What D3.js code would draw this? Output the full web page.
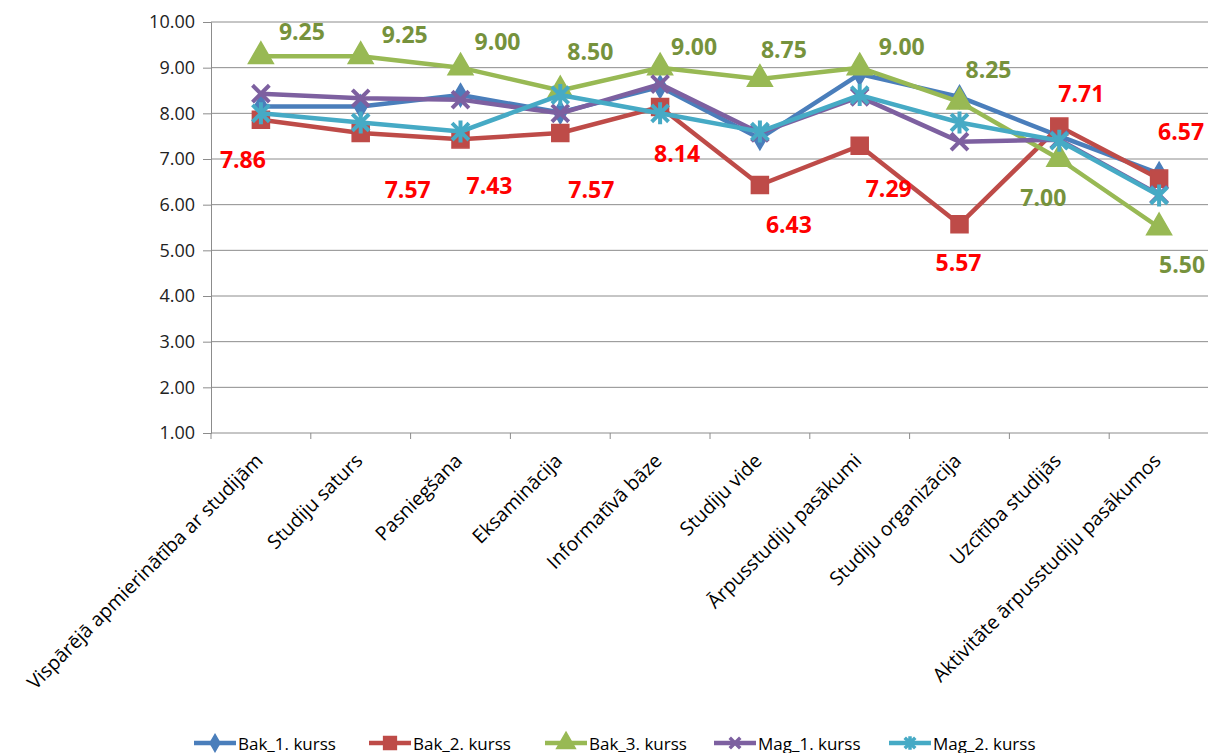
<!DOCTYPE html>
<html>
<head>
<meta charset="utf-8">
<script src="https://cdn.jsdelivr.net/npm/d3@7"></script>
<style>
  body { margin: 0; background: #fff; }
  svg { font-family: "Open Sans", "Noto Sans", sans-serif; }
</style>
</head>
<body>
<div id="chart"></div>
<script>
const categories = ["Vispārējā apmierinātība ar studijām", "Studiju saturs", "Pasniegšana", "Eksaminācija",
  "Informatīvā bāze", "Studiju vide", "Ārpusstudiju pasākumi", "Studiju organizācija", "Uzcītība studijās",
  "Aktivitāte ārpusstudiju pasākumos"];

const bak1 = [8.15, 8.15, 8.40, 8.02, 8.58, 7.45, 8.86, 8.36, 7.50, 6.68];
const bak2 = [7.86, 7.57, 7.43, 7.57, 8.14, 6.43, 7.29, 5.57, 7.71, 6.57];
const bak3 = [9.25, 9.25, 9.00, 8.50, 9.00, 8.75, 9.00, 8.25, 7.00, 5.50];
const mag1 = [8.43, 8.33, 8.30, 8.00, 8.64, 7.57, 8.36, 7.38, 7.42, 6.22];
const mag2 = [8.00, 7.80, 7.60, 8.40, 8.00, 7.60, 8.40, 7.80, 7.40, 6.20];

const seriesNames = ["Bak_1. kurss", "Bak_2. kurss", "Bak_3. kurss", "Mag_1. kurss", "Mag_2. kurss"];
const yTicks = [1, 2, 3, 4, 5, 6, 7, 8, 9, 10];

// label nudges (px) for the two labelled series, placed by hand like in the original
const bak3LabelShift = [[41,-25],[44,-22],[37,-27],[30,-40],[34,-22],[24,-30],[42,-22],[29,-33],[-16,38],[23,36]];
const bak2LabelShift = [[-18,39],[47,56],[29,46],[31,56],[17,46],[29,39],[29,42],[-1,38],[22,-34],[22,-48]];

let width = 1208, height = 753,
    margin = ({ top: 22, right: -1, bottom: 320, left: 211 });

const svg = d3.select("#chart").append("svg")
    .attr("width", width).attr("height", height)
    .attr("viewBox", [0, 0, width, height]);

let x = d3.scaleBand().domain(categories).range([margin.left, width - margin.right]);
let y = d3.scaleLinear().domain([1, 10]).range([height - margin.bottom, margin.top]);

const series = [
  { name: seriesNames[0], values: bak1, color: "#4A7EBB", marker: "diamond" },
  { name: seriesNames[1], values: bak2, color: "#BE4B48", marker: "square" },
  { name: seriesNames[2], values: bak3, color: "#98B954", marker: "triangle" },
  { name: seriesNames[3], values: mag1, color: "#7D60A0", marker: "x" },
  { name: seriesNames[4], values: mag2, color: "#46AAC5", marker: "star" }
];

// gridlines
svg.append("g")
  .selectAll("line")
  .data(yTicks.slice(1))
  .join("line")
  .attr("x1", margin.left).attr("x2", width)
  .attr("y1", d => y(d)).attr("y2", d => y(d))
  .attr("stroke", "#8c8c8c").attr("stroke-width", 1);

// y axis
const yAxis = svg.append("g")
  .attr("transform", `translate(${margin.left},0)`)
  .call(d3.axisLeft(y).tickValues(yTicks).tickFormat(d3.format(".2f")).tickSize(8).tickPadding(8));
yAxis.attr("font-size", null).attr("font-family", null);
yAxis.select(".domain").attr("stroke", "#8c8c8c");
yAxis.selectAll(".tick line").attr("stroke", "#8c8c8c");
yAxis.selectAll("text")
  .style("font-size", "18px")
  .style("font-family", "'Open Sans', sans-serif")
  .attr("fill", "#222");

// x axis baseline with ticks at category boundaries
const xb = svg.append("g");
xb.append("line")
  .attr("x1", margin.left).attr("x2", width)
  .attr("y1", y(1)).attr("y2", y(1))
  .attr("stroke", "#8c8c8c");
xb.selectAll("line.tk")
  .data(categories)
  .join("line").attr("class", "tk")
  .attr("x1", d => x(d)).attr("x2", d => x(d))
  .attr("y1", y(1)).attr("y2", y(1) + 6)
  .attr("stroke", "#8c8c8c");

xb.selectAll("text")
  .data(categories)
  .join("text")
  .attr("transform", d => `translate(${x(d) + x.bandwidth() / 2 + 3},${y(1) + 29}) rotate(-45)`)
  .attr("text-anchor", "end")
  .attr("font-size", 19.5)
  .attr("fill", "#000")
  .text(d => d);

// markers
function markerPath(type, k = 1) {
  if (type === "diamond") return d3.symbol(d3.symbolDiamond, 150 * k * k)();
  if (type === "square") return d3.symbol(d3.symbolSquare, 290 * k * k)();
  if (type === "triangle") return d3.symbol(d3.symbolTriangle, 270 * k * k)();
  const a = 7 * k, b = 9 * k;
  if (type === "x") return `M${-a},${-a}L${a},${a}M${-a},${a}L${a},${-a}`;
  return `M${-a},${-a}L${a},${a}M${-a},${a}L${a},${-a}M0,${-b}L0,${b}`;
}

const line = d3.line()
  .x((d, i) => x(categories[i]) + x.bandwidth() / 2)
  .y(d => y(d));

const gSeries = svg.append("g")
  .selectAll("g")
  .data(series)
  .join("g");

gSeries.append("path")
  .attr("d", d => line(d.values))
  .attr("fill", "none")
  .attr("stroke", d => d.color)
  .attr("stroke-width", 4.5)
  .attr("stroke-linejoin", "round");

gSeries.each(function(s) {
  const filled = s.marker !== "x" && s.marker !== "star";
  d3.select(this).selectAll("path.mk")
    .data(s.values)
    .join("path").attr("class", "mk")
    .attr("transform", (d, i) => `translate(${x(categories[i]) + x.bandwidth() / 2},${y(d)})`)
    .attr("d", markerPath(s.marker))
    .attr("fill", filled ? s.color : "none")
    .attr("stroke", s.color)
    .attr("stroke-width", filled ? 1.5 : 4)
    .attr("stroke-linecap", "square");
});

// data labels
function addLabels(values, shift, color) {
  svg.append("g")
    .selectAll("text")
    .data(values)
    .join("text")
    .attr("x", (d, i) => x(categories[i]) + x.bandwidth() / 2 + shift[i][0])
    .attr("y", (d, i) => y(d) + shift[i][1])
    .attr("text-anchor", "middle")
    .attr("dominant-baseline", "central")
    .attr("font-size", 23)
    .attr("font-weight", "bold")
    .attr("fill", color)
    .text(d => d.toFixed(2));
}
addLabels(bak3, bak3LabelShift, "#76923C");
addLabels(bak2, bak2LabelShift, "#FF0000");

// legend
const legendX = [194, 369, 545, 714, 889];
const legend = svg.append("g")
  .selectAll("g")
  .data(series)
  .join("g")
  .attr("transform", (d, i) => `translate(${legendX[i]},743)`);

legend.append("line")
  .attr("x1", 0).attr("x2", 42)
  .attr("stroke", d => d.color).attr("stroke-width", 4.5);
legend.append("path")
  .attr("transform", "translate(21,0)")
  .attr("d", d => markerPath(d.marker, 0.75))
  .attr("fill", d => (d.marker === "x" || d.marker === "star") ? "none" : d.color)
  .attr("stroke", d => d.color)
  .attr("stroke-width", d => (d.marker === "x" || d.marker === "star") ? 3.5 : 1.5);
legend.append("text")
  .attr("x", 44)
  .attr("dominant-baseline", "central")
  .attr("font-size", 17)
  .attr("fill", "#000")
  .text(d => d.name);
</script>
</body>
</html>
